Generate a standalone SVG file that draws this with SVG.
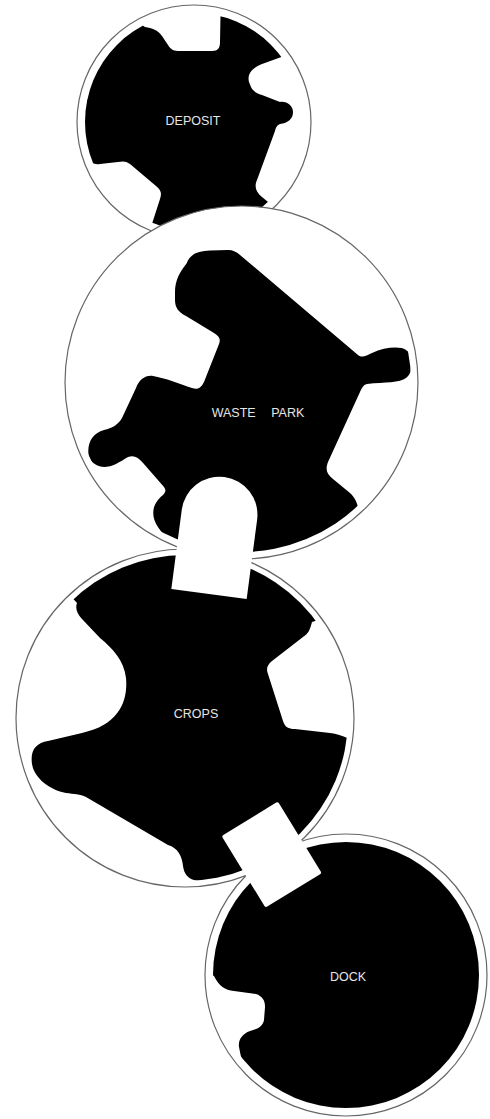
<svg xmlns="http://www.w3.org/2000/svg" width="490" height="1119" viewBox="0 0 490 1119">
<style>
.ring{fill:#fff;stroke:#666;stroke-width:1.2}
.blob{fill:#000}
.lbl{font-family:"Liberation Sans",Arial,sans-serif;font-size:12.5px;fill:#e6e6e6;text-anchor:middle}
.tab{fill:#fff;stroke:none}
</style>
<defs>
<clipPath id="c1"><circle cx="194" cy="122" r="109"/></clipPath>
<clipPath id="c2"><circle cx="241.5" cy="382.5" r="169.5"/></clipPath>
<clipPath id="c3"><circle cx="185" cy="718" r="163"/></clipPath>
<clipPath id="c4"><circle cx="346" cy="975" r="133"/></clipPath>
</defs>
<rect width="490" height="1119" fill="#fff"/>
<g id="deposit">
<circle class="ring" cx="194" cy="122" r="117"/>
<path class="blob" clip-path="url(#c1)" d="M120,10 L145,27 C152,28 158,30 162,36 L168,45 C171,50 174,51 180,51 L212,51 C218,51 220,48 220,42 L221,-10 L330,-10 L330,52 L287,55 L262,64 C252,68 247,74 249,82 L251,87 C253,91 256,93 262,95 L280,102 C287,101 293,106 293,112 C293,119 288,123 280,124 C277,125 276,127 275,131 L257,180 C254,187 256,192 262,197 L290,220 L290,270 L150,270 L150,230 L160,199 C162,193 161,190 156,186 L130,164 C126,161 123,161 118,162 L100,164 C94,165 90,162 88,158 L60,150 L40,40 Z"/>
<text class="lbl" x="193" y="125">DEPOSIT</text>
</g>
<g id="waste-park">
<circle class="ring" cx="241.5" cy="382.5" r="176.5"/>
<path class="blob" clip-path="url(#c2)" d="M186.7,263.3 C190,254 198,251 210,250.5 L228,250 C233,250 237,252 240,255 L358,355 C362,358 366,356 372,353 C385,347 400,346 406,350 C414,355 414,372 406,378 C400,383 385,382 367,384 C363,385 362,388 360,392 L328,462 C325,470 327,474 333,479 L350,493 C362,503 362,530 360,560 L300,580 L180,560 L170,540 C160,532 153,522 153.3,513.3 C153,506 157,500 163,495 C166,492 166,490 164,487 L143.3,463.3 C138,457 134,455 128,457 C120,462 112,467 104,467 C94,466 88,460 88.3,451 C88.5,440 94,433 104,430 C112,428 118,425 122,418 L136,388 C139,380 145,375 153,376 C165,378 180,384 192,388 C198,390 201,388 204,382 L219,344 C221,339 219,336 214,333 L186,316 C178,312 175,307 175,300 L175,292 C175,280 180,272 186.7,263.3 Z"/>
<text class="lbl" x="258" y="417" word-spacing="12">WASTE PARK</text>
</g>
<g id="crops">
<circle class="ring" cx="185" cy="718" r="169"/>
<path class="blob" clip-path="url(#c3)" d="M65,590 L40,540 L340,540 L345,612 L312,622 C310,630 308,634 303,637 L272,661 C267,665 266,669 268,674 L283,721 C285,727 288,729 295,729 L330,733 C338,734 345,737 352,740 L380,745 L380,900 L200,900 L197,881 C188,879 184,874 183,866 C182,856 178,848 168,845 L86,797 C80,794 74,794 66,793 C50,790 34,778 32,764 C30,750 36,743 48,741 L82,733 C120,725 128,700 126,678 C124,660 112,648 100,638 L82,619 C77,614 75,608 77,603 Z"/>
<text class="lbl" x="196" y="718">CROPS</text>
</g>
<g id="dock">
<circle class="ring" cx="346" cy="975" r="141"/>
<path class="blob" clip-path="url(#c4)" d="M200,968 L214,976 C219,986 225,990 234,991 L256,994 C262,996 265,1000 265,1007 L264,1020 C263,1026 258,1029 250,1031 C242,1034 238,1040 239,1047 L241,1057 L215,1070 L215,1119 L490,1119 L490,830 L200,830 Z"/>
<text class="lbl" x="348" y="981">DOCK</text>
</g>
<g id="connectors">
<path class="tab" transform="translate(209,594) rotate(7.5)" d="M-38,0 L-38,-80 A38,38 0 0 1 38,-80 L38,0 Z"/>
<rect class="tab" x="-33" y="-42" width="66" height="84" rx="2" transform="translate(271.7,854.6) rotate(-31.5)"/>
</g>
</svg>
